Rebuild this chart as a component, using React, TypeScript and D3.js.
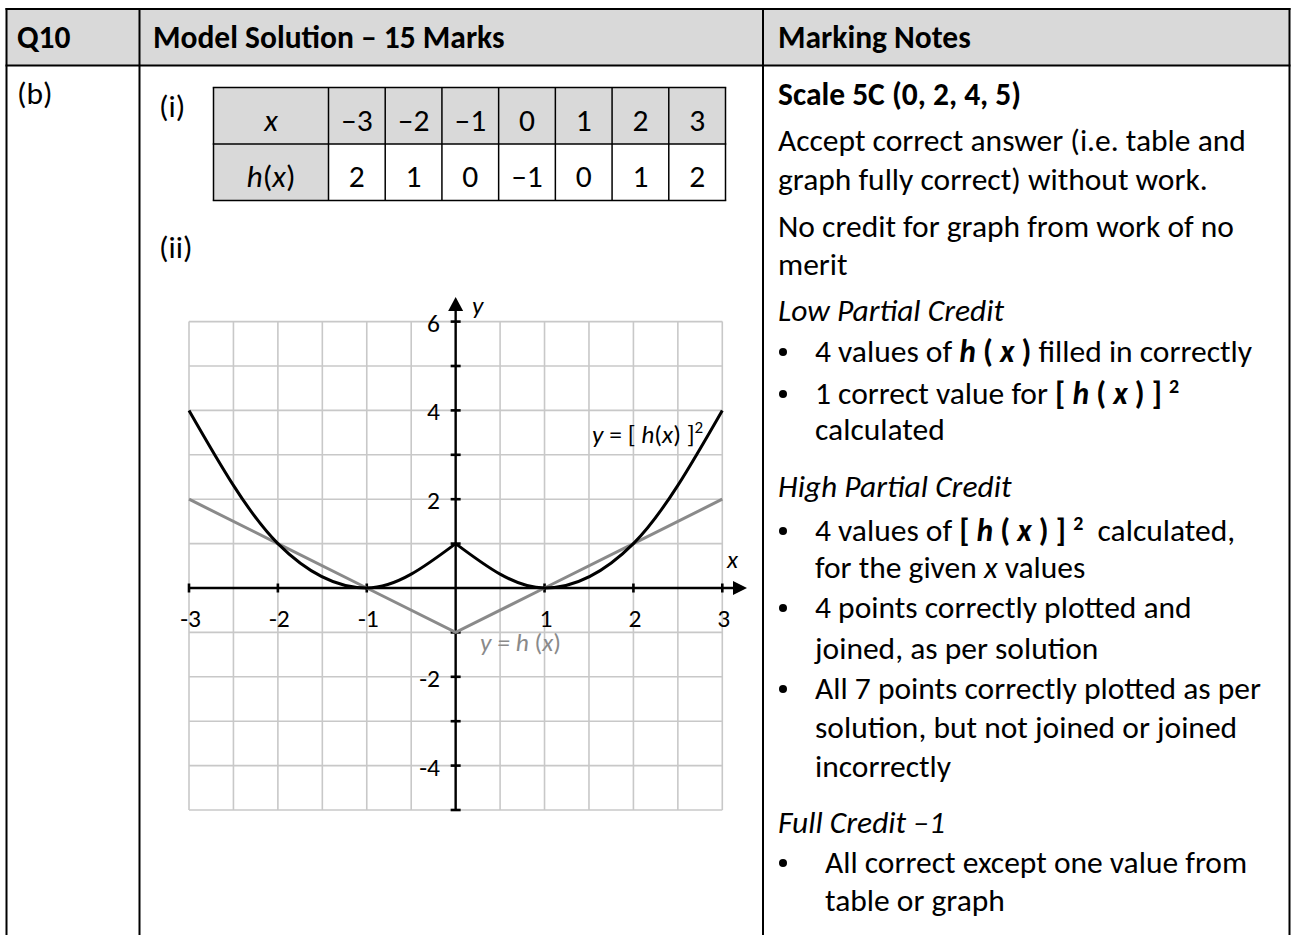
import React from 'react';
import * as d3 from 'd3';

// ---- data ----
const xValues = [-3, -2, -1, 0, 1, 2, 3];
const hValues = [2, 1, 0, -1, 0, 1, 2];
const hSquaredValues = [4, 1, 0, 1, 0, 1, 4];
const xCellLabels = ['–3', '–2', '–1', '0', '1', '2', '3'];
const hCellLabels = ['2', '1', '0', '–1', '0', '1', '2'];
const xTickValues = [-3, -2, -1, 1, 2, 3];
const xTickLabels = ['-3', '-2', '-1', '1', '2', '3'];
const yTickValues = [6, 4, 2, -2, -4];
const yTickLabels = ['6', '4', '2', '-2', '-4'];

const FONT = 'Carlito, Calibri, Lato, sans-serif';
const FS = 31.5;
const GFS = 25.5;

type P = { x: number; h: number; s: number };

function T(props: any) {
  const { x, y, children, size = FS, weight, italic, fill = '#000', anchor } = props;
  return (
    <text
      x={x}
      y={y}
      fontFamily={FONT}
      fontSize={size}
      fontWeight={weight}
      fontStyle={italic ? 'italic' : undefined}
      fill={fill}
      textAnchor={anchor}
      style={{ whiteSpace: 'pre' }}
    >
      {children}
    </text>
  );
}

const B = (p: any) => <tspan fontWeight="bold">{p.children}</tspan>;
const BI = (p: any) => <tspan fontWeight="bold" fontStyle="italic">{p.children}</tspan>;
const I = (p: any) => <tspan fontStyle="italic">{p.children}</tspan>;

export default function App() {
  const W = 1292;
  const H = 935;
  const x = d3.scaleLinear().domain([-3, 3]).range([189, 722.3]);
  const y = d3.scaleLinear().domain([-5, 6]).range([810, 321.6]);
  const gridX = d3.range(-3, 3.0001, 0.5);
  const gridY = d3.range(-5, 6.0001, 1);
  const yTicksAll = d3.range(-5, 6.0001, 1).filter((v) => v !== 0);

  const pts: P[] = xValues.map((v, i) => ({ x: v, h: hValues[i], s: hSquaredValues[i] }));
  const lineH = d3.line<P>().x((d) => x(d.x)).y((d) => y(d.h));
  const lineS = d3
    .line<P>()
    .x((d) => x(d.x))
    .y((d) => y(d.s))
    .curve(d3.curveMonotoneX);
  const leftHalf = pts.slice(0, 4);
  const rightHalf = pts.slice(3);

  const x0 = x(0);
  const y0 = y(0);

  // small table geometry
  const tLeft = 213.5;
  const firstW = 115;
  const tRight = 725.5;
  const cellW = (tRight - tLeft - firstW) / 7;
  const rowTop = 87.5;
  const rowMid = 144;
  const rowBot = 200.5;
  const colEdges = [tLeft, ...d3.range(8).map((i) => tLeft + firstW + i * cellW)];

  const bullet = (yy: number, cx = 783) => <circle cx={cx} cy={yy - 10} r={4} fill="#000" />;

  return (
    <div style={{ position: 'absolute', left: 0, top: 0 }}>
      <svg width={W} height={H} viewBox={`0 0 ${W} ${H}`} style={{ display: 'block', background: '#fff' }}>
        {/* outer table */}
        <rect x={6.5} y={9} width={1283} height={56.5} fill="#d9d9d9" />
        <line x1={5.5} x2={1290.5} y1={9} y2={9} stroke="#000" strokeWidth={2} />
        <line x1={5.5} x2={1290.5} y1={65.5} y2={65.5} stroke="#000" strokeWidth={2} />
        {[6.5, 139.5, 763, 1289.5].map((cx) => (
          <line key={cx} x1={cx} x2={cx} y1={8} y2={H} stroke="#000" strokeWidth={2} />
        ))}

        <T x={17} y={48} weight="bold">Q10</T>
        <T x={153} y={48} weight="bold">Model Solution – 15 Marks</T>
        <T x={778} y={48} weight="bold">Marking Notes</T>

        <T x={17} y={104}>(b)</T>
        <T x={159} y={117}>(i)</T>
        <T x={159} y={258}>(ii)</T>

        {/* small value table */}
        <rect x={tLeft} y={rowTop} width={tRight - tLeft} height={rowMid - rowTop} fill="#d9d9d9" />
        <rect x={tLeft} y={rowMid} width={firstW} height={rowBot - rowMid} fill="#d9d9d9" />
        {[rowTop, rowMid, rowBot].map((ry) => (
          <line key={ry} x1={tLeft - 0.75} x2={tRight + 0.75} y1={ry} y2={ry} stroke="#000" strokeWidth={1.5} />
        ))}
        {colEdges.map((cx, i) => (
          <line key={i} x1={cx} x2={cx} y1={rowTop} y2={rowBot} stroke="#000" strokeWidth={1.5} />
        ))}
        <T x={tLeft + firstW / 2} y={131} anchor="middle" italic>x</T>
        <T x={tLeft + firstW / 2} y={187} anchor="middle">
          <I>h</I>(<I>x</I>)
        </T>
        {xCellLabels.map((s, i) => (
          <T key={'xc' + i} x={colEdges[i + 1] + cellW / 2} y={131} anchor="middle">{s}</T>
        ))}
        {hCellLabels.map((s, i) => (
          <T key={'hc' + i} x={colEdges[i + 1] + cellW / 2} y={187} anchor="middle">{s}</T>
        ))}

        {/* graph grid */}
        {gridX.map((gx) => (
          <line key={'gx' + gx} x1={x(gx)} x2={x(gx)} y1={y(6)} y2={y(-5)} stroke="#c8c8c8" strokeWidth={1.6} />
        ))}
        {gridY.map((gy) => (
          <line key={'gy' + gy} x1={x(-3)} x2={x(3)} y1={y(gy)} y2={y(gy)} stroke="#c8c8c8" strokeWidth={1.6} />
        ))}

        {/* axes */}
        <line x1={x(-3)} x2={734} y1={y0} y2={y0} stroke="#000" strokeWidth={2.4} />
        <path d={`M${733},${y0 - 7}L${747},${y0}L${733},${y0 + 7}Z`} fill="#000" />
        <line x1={x0} x2={x0} y1={y(-5)} y2={310} stroke="#000" strokeWidth={2.4} />
        <path d={`M${x0 - 7.5},${311}L${x0},${297}L${x0 + 7.5},${311}Z`} fill="#000" />
        {xValues.filter((v) => v !== 0).map((v) => (
          <line key={'xt' + v} x1={x(v)} x2={x(v)} y1={y0 - 4.5} y2={y0 + 4.5} stroke="#000" strokeWidth={2.6} />
        ))}
        {yTicksAll.map((v) => (
          <line key={'yt' + v} x1={x0 - 5} x2={x0 + 5} y1={y(v)} y2={y(v)} stroke="#000" strokeWidth={2.6} />
        ))}
        {xTickValues.map((v, i) => (
          <T key={'xl' + v} x={x(v) + 1.5} y={627} size={GFS} anchor="middle">{xTickLabels[i]}</T>
        ))}
        {yTickValues.map((v, i) => (
          <T key={'yl' + v} x={440} y={y(v) + 10} size={GFS} anchor="end">{yTickLabels[i]}</T>
        ))}
        <T x={472} y={314} size={GFS} italic>y</T>
        <T x={727} y={568} size={GFS} italic>x</T>

        {/* series */}
        <path d={lineH(pts) || ''} fill="none" stroke="#8a8a8a" strokeWidth={3} />
        <path d={lineS(leftHalf) || ''} fill="none" stroke="#000" strokeWidth={3} />
        <path d={lineS(rightHalf) || ''} fill="none" stroke="#000" strokeWidth={3} />

        <T x={592} y={443} size={GFS}>
          <I>y</I> = [ <I>h</I>(<I>x</I>) ]<tspan dy={-10} fontSize={17}>2</tspan>
        </T>
        <T x={480} y={651} size={GFS} fill="#8a8a8a">
          <I>y = h </I>(<I>x</I>)
        </T>

        {/* marking notes */}
        <T x={778} y={105} weight="bold">Scale 5C (0, 2, 4, 5)</T>
        <T x={778} y={151}>Accept correct answer (i.e. table and</T>
        <T x={778} y={190}>graph fully correct) without work.</T>
        <T x={778} y={237}>No credit for graph from work of no</T>
        <T x={778} y={275}>merit</T>

        <T x={778} y={321} italic>Low Partial Credit</T>
        {bullet(362)}
        <T x={815} y={362}>
          4 values of <BI>h</BI><B> ( </B><BI>x</BI><B> )</B> filled in correctly
        </T>
        {bullet(404)}
        <T x={815} y={404}>
          1 correct value for <B>[ </B><BI>h</BI><B> ( </B><BI>x</BI><B> ) ] </B>
          <tspan dy={-11} fontSize={20} fontWeight="bold">2</tspan>
        </T>
        <T x={815} y={440}>calculated</T>

        <T x={778} y={497} italic>High Partial Credit</T>
        {bullet(541)}
        <T x={815} y={541}>
          4 values of <B>[ </B><BI>h</BI><B> ( </B><BI>x</BI><B> ) ] </B>
          <tspan dy={-11} fontSize={20} fontWeight="bold">2</tspan>
          <tspan dy={11}>  calculated,</tspan>
        </T>
        <T x={815} y={578}>
          for the given <I>x</I> values
        </T>
        {bullet(618)}
        <T x={815} y={618}>4 points correctly plotted and</T>
        <T x={815} y={659}>joined, as per solution</T>
        {bullet(699)}
        <T x={815} y={699}>All 7 points correctly plotted as per</T>
        <T x={815} y={738}>solution, but not joined or joined</T>
        <T x={815} y={777}>incorrectly</T>

        <T x={778} y={833} italic>Full Credit –1</T>
        {bullet(873)}
        <T x={825} y={873}>All correct except one value from</T>
        <T x={825} y={911}>table or graph</T>
      </svg>
    </div>
  );
}
